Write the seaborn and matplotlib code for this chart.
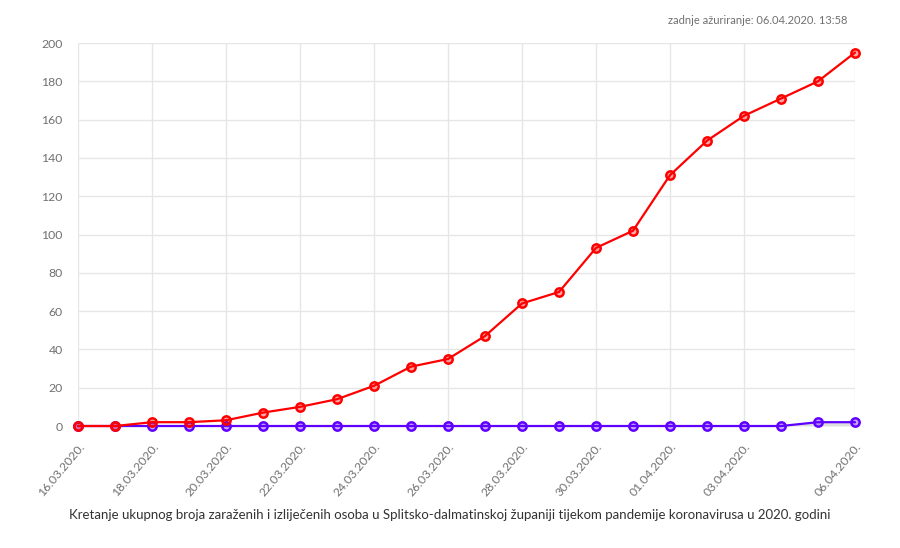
import pandas as pd
import matplotlib.pyplot as plt
import seaborn as sb

# data
days = ["16.03.2020.", "17.03.2020.", "18.03.2020.", "19.03.2020.", "20.03.2020.",
        "21.03.2020.", "22.03.2020.", "23.03.2020.", "24.03.2020.", "25.03.2020.",
        "26.03.2020.", "27.03.2020.", "28.03.2020.", "29.03.2020.", "30.03.2020.",
        "31.03.2020.", "01.04.2020.", "02.04.2020.", "03.04.2020.", "04.04.2020.",
        "05.04.2020.", "06.04.2020."]
zarazeni = [0, 0, 2, 2, 3, 7, 10, 14, 21, 31, 35, 47, 64, 70, 93, 102, 131, 149, 162, 171, 180, 195]
izlijeceni = [0, 0, 0, 0, 0, 0, 0, 0, 0, 0, 0, 0, 0, 0, 0, 0, 0, 0, 0, 0, 2, 2]
shown_labels = ["16.03.2020.", "18.03.2020.", "20.03.2020.", "22.03.2020.", "24.03.2020.",
                "26.03.2020.", "28.03.2020.", "30.03.2020.", "01.04.2020.", "03.04.2020.",
                "06.04.2020."]

df = pd.DataFrame({"dan": range(len(days)), "datum": days,
                   "zarazeni": zarazeni, "izlijeceni": izlijeceni})

sb.set_style("white")
plt.rcParams['font.family'] = ['Lato', 'DejaVu Sans']

fig = plt.figure(figsize=(9, 5.48), dpi=100)
ax = fig.add_axes([0.0867, 0.2226, 0.8633, 0.6989])

red = "#ff0000"
blue = "#6000ff"
ax.fill_between(df["dan"], df["izlijeceni"], 0, color="#d9d9d9", alpha=0.8, lw=0, zorder=1)
sb.lineplot(data=df, x="dan", y="izlijeceni", ax=ax, color=blue, lw=1.6, marker="o",
            markersize=6, markeredgewidth=1.8, markeredgecolor=blue,
            markerfacecolor=(0.38, 0.0, 1.0, 0.35), zorder=3, clip_on=False)
sb.lineplot(data=df, x="dan", y="zarazeni", ax=ax, color=red, lw=1.6, marker="o",
            markersize=6, markeredgewidth=1.8, markeredgecolor=red,
            markerfacecolor=(1.0, 0.0, 0.0, 0.35), zorder=4, clip_on=False)

ax.set_xlim(0, len(days) - 1)
ax.set_ylim(0, 200)
ax.set_yticks(range(0, 201, 20))
ax.set_yticklabels([str(v) for v in range(0, 201, 20)], fontsize=8.8, color="#707070")
tick_pos = [days.index(d) for d in shown_labels]
ax.set_xticks(tick_pos)
ax.set_xticklabels(shown_labels, rotation=50, ha="right", rotation_mode="anchor",
                   fontsize=8.8, color="#707070")
ax.tick_params(axis="both", length=8, color="#e6e6e6", width=1, pad=3)
ax.grid(True, color="#e6e6e6", lw=1)
for s in ax.spines.values():
    s.set_visible(False)
ax.set_xlabel("")
ax.set_ylabel("")

fig.text(0.942, 0.962, "zadnje ažuriranje: 06.04.2020. 13:58", ha="right", va="center",
         fontsize=8, color="#707070")
fig.text(0.5, 0.06, "Kretanje ukupnog broja zaraženih i izliječenih osoba u Splitsko-dalmatinskoj županiji tijekom pandemije koronavirusa u 2020. godini",
         ha="center", va="center", fontsize=9.5, color="#333333")

plt.savefig("out.png", dpi=100)
